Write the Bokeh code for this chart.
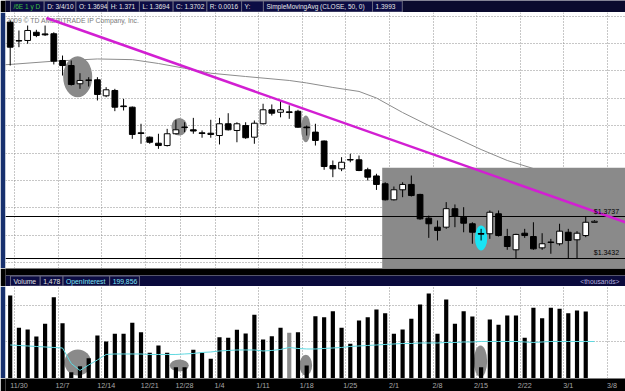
from bokeh.plotting import figure
from bokeh.models import Range1d, FixedTicker
from bokeh.layouts import column
from bokeh.embed import file_html
from bokeh.resources import INLINE
from bokeh.core.properties import value

FONT = "Liberation Sans"

# ---------------- data ----------------
week_labels = ["11/30", "12/7", "12/14", "12/21", "12/28", "1/4", "1/11", "1/18",
               "1/25", "2/1", "2/8", "2/15", "2/22", "3/1", "3/8"]
week_idx = [1, 6, 11, 16, 20, 24, 29, 34, 39, 44, 49, 54, 59, 64, 69]

opens = [1.5155, 1.5021, 1.5022, 1.5082, 1.5070, 1.5071, 1.4876, 1.4839, 1.4706, 1.4730,
         1.4735, 1.4618, 1.4657, 1.4544, 1.4535, 1.4348, 1.4316, 1.4272, 1.4255, 1.4341,
         1.4390, 1.4370, 1.4348, 1.4345, 1.4328, 1.4414, 1.4365, 1.4401, 1.4316, 1.4414,
         1.4516, 1.4498, 1.4501, 1.4505, 1.4390, 1.4353, 1.4288, 1.4109, 1.4085, 1.4153,
         1.4151, 1.4078, 1.4033, 1.3976, 1.3859, 1.3932, 1.3971, 1.3898, 1.3725, 1.3659,
         1.3659, 1.3794, 1.3732, 1.3684, 1.3613, 1.3611, 1.3757, 1.3591, 1.3494, 1.3615,
         1.3591, 1.3508, 1.3551, 1.3538, 1.3622, 1.3567, 1.3598, 1.3694]
highs = [1.5168, 1.5095, 1.5131, 1.5100, 1.5131, 1.5082, 1.4912, 1.4876, 1.4783, 1.4754,
         1.4754, 1.4681, 1.4669, 1.4596, 1.4540, 1.4414, 1.4321, 1.4341, 1.4377, 1.4443,
         1.4425, 1.4457, 1.4365, 1.4443, 1.4457, 1.4491, 1.4425, 1.4425, 1.4438, 1.4560,
         1.4555, 1.4584, 1.4548, 1.4516, 1.4401, 1.4414, 1.4292, 1.4146, 1.4170, 1.4195,
         1.4182, 1.4093, 1.4049, 1.3987, 1.3956, 1.3987, 1.4036, 1.3903, 1.3744, 1.3708,
         1.3842, 1.3825, 1.3805, 1.3695, 1.3647, 1.3781, 1.3781, 1.3647, 1.3611, 1.3647,
         1.3695, 1.3615, 1.3574, 1.3684, 1.3647, 1.3630, 1.3737, 1.3710]
lows = [1.4839, 1.4973, 1.4998, 1.5046, 1.5055, 1.4847, 1.4766, 1.4693, 1.4669, 1.4686,
        1.4584, 1.4608, 1.4506, 1.4511, 1.4304, 1.4268, 1.4268, 1.4231, 1.4248, 1.4336,
        1.4353, 1.4341, 1.4312, 1.4312, 1.4263, 1.4365, 1.4279, 1.4304, 1.4268, 1.4409,
        1.4474, 1.4461, 1.4450, 1.4385, 1.4328, 1.4255, 1.4078, 1.4024, 1.4068, 1.4133,
        1.4068, 1.4000, 1.3931, 1.3854, 1.3854, 1.3878, 1.3883, 1.3713, 1.3581, 1.3562,
        1.3647, 1.3659, 1.3622, 1.3538, 1.3562, 1.3574, 1.3591, 1.3494, 1.3432, 1.3581,
        1.3494, 1.3494, 1.3465, 1.3525, 1.3432, 1.3432, 1.3586, 1.3694]
closes = [1.4973, 1.5018, 1.5095, 1.5058, 1.5063, 1.4871, 1.4839, 1.4701, 1.4730, 1.4734,
          1.4628, 1.4662, 1.4535, 1.4539, 1.4336, 1.4343, 1.4279, 1.4255, 1.4341, 1.4370,
          1.4387, 1.4361, 1.4343, 1.4336, 1.4414, 1.4370, 1.4414, 1.4312, 1.4418, 1.4516,
          1.4491, 1.4516, 1.4496, 1.4389, 1.4385, 1.4292, 1.4102, 1.4085, 1.4133, 1.4149,
          1.4073, 1.4024, 1.3971, 1.3859, 1.3932, 1.3971, 1.3890, 1.3720, 1.3684, 1.3635,
          1.3794, 1.3737, 1.3688, 1.3622, 1.3608, 1.3768, 1.3598, 1.3518, 1.3606, 1.3598,
          1.3501, 1.3538, 1.3547, 1.3630, 1.3562, 1.3615, 1.3695, 1.3702]

# volume, thousands of contracts
volume = [226.2, 138.1, 133.5, 114.4, 149.0, 221.5, 150.7, 17.2, 33.5, 55.3,
          117.2, 100.8, 121.8, 121.8, 151.8, 126.2, 70.0, 89.9, 70.0, 30.8,
          30.8, 78.2, 70.0, 53.7, 112.5, 110.9, 132.7, 122.6, 173.6, 106.3,
          115.3, 138.1, 124.5, 126.2, 35.4, 169.5, 167.0, 183.4, 138.1, 94.6,
          158.0, 167.0, 188.0, 177.9, 121.8, 133.5, 162.7, 201.6, 231.6, 121.8,
          215.3, 149.0, 183.4, 168.9, 30.8, 160.8, 146.3, 171.7, 171.7, 110.9,
          192.6, 164.3, 192.6, 189.9, 177.9, 185.3, 182.6, 1.478]
vol_gray_idx = [32]

# open interest, thousands
open_interest = [192.9, 191.9, 190.9, 189.9, 188.9, 187.9, 186.9, 155.9, 141.9, 152.9,
                 162.9, 173.9, 174.9, 174.9, 174.9, 174.9, 173.9, 173.9, 173.9, 173.9,
                 174.9, 175.9, 177.9, 178.9, 180.9, 181.9, 182.9, 182.9, 182.9, 180.9,
                 181.9, 183.9, 187.9, 185.9, 184.9, 184.9, 185.9, 186.9, 187.9, 189.9,
                 190.9, 191.9, 192.9, 193.9, 194.9, 195.9, 195.9, 196.9, 196.9, 196.9,
                 197.9, 197.9, 198.9, 198.9, 199.9, 199.9, 199.9, 199.9, 199.9, 198.9,
                 197.9, 198.9, 199.9, 199.9, 199.9, 199.9, 199.9, 199.856]

# 50-day simple moving average, read at these bars
sma_idx = [-0.6, 0, 5, 10, 14, 17, 20, 23, 27, 32, 34, 37, 40, 42, 45, 48, 51, 54, 57, 60, 63, 67]
sma_val = [1.4845, 1.4847, 1.4871, 1.4887, 1.4882, 1.4854, 1.4819, 1.4783, 1.4759, 1.4730,
           1.4712, 1.4679, 1.4650, 1.4602, 1.4496, 1.4401, 1.4314, 1.4226, 1.4146, 1.4087,
           1.4040, 1.3993]

# trend line end points
trend_idx = [4.16, 70.56]
trend_val = [1.5186, 1.3695]

# highlighted price range
range_start_idx = 42.66
range_top = 1.40925
price_levels = [1.3737, 1.3432]
price_level_labels = ["$1.3737", "$1.3432"]

# highlight ellipses (price panel)
pe_idx = [7.74, 19.39, 33.90]
pe_val = [1.47568, 1.43925, 1.43772]
pe_w = [3.33, 1.80, 1.07]
pe_h = [0.0299, 0.0129, 0.0195]
cyan_idx, cyan_val, cyan_w, cyan_h = 54.0, 1.35801, 1.41, 0.01825
# highlight ellipses (volume panel)
ve_idx = [7.75, 19.39, 33.90, 53.93]
ve_val = [43.6, 35.4, 36.2, 46.9]
ve_w = [3.06, 2.18, 1.45, 1.53]
ve_h = [70.8, 32.7, 56.4, 86.4]

hdr_texts = ["/6E 1 y D", "D: 3/4/10", "O: 1.3694", "H: 1.371", "L: 1.3694", "C: 1.3702",
             "R: 0.0016", "Y:", "SimpleMovingAvg (CLOSE, 50, 0)", "1.3993"]
vol_hdr_texts = ["Volume", "1,478", "OpenInterest", "199,856"]

# ---------------- layout helpers ----------------
N = len(closes)
X_RANGE = Range1d(-0.54, 70.56)
GRID_COLOR = "#8f8f8f"


def make_fig(h, xr, yr, left=0, border="#000000", bg="#ffffff"):
    f = figure(width=625, height=h, x_range=xr, y_range=yr, output_backend="svg",
               toolbar_location=None, min_border=0, min_border_left=left,
               min_border_right=0, min_border_top=0, min_border_bottom=0)
    f.border_fill_color = border
    f.background_fill_color = bg
    f.outline_line_color = None
    f.axis.visible = False
    f.grid.visible = False
    return f


# ---------------- header ----------------
hdr = make_fig(12, Range1d(0, 625), Range1d(0, 12), bg="#0a0a2e")
hb_left = [5, 39, 71, 103, 135, 169, 203, 238, 260, 370]
hb_right = [39, 71, 103, 135, 169, 203, 238, 260, 370, 400]
hdr.quad(left=hb_left, right=hb_right, bottom=0.5, top=11.5, fill_color="#0c0c44",
         line_color="#6a6a80", line_width=1)
hdr.text(x=[l + 3 for l in hb_left], y=[6] * len(hb_left), text=hdr_texts,
         text_color=["#3cc040"] + ["#e6e6e6"] * 9, text_font=value(FONT),
         text_font_size=value("6.5px"), text_baseline="middle", text_align="left")

# ---------------- price panel ----------------
pr = make_fig(256, X_RANGE, Range1d(1.33574, 1.52262), left=5, border="#17306e")
pr.grid.visible = True
pr.xgrid.ticker = FixedTicker(ticks=[w - 0.5 for w in week_idx])
pr.ygrid.ticker = FixedTicker(ticks=[1.34 + 0.02 * k for k in range(10)])
pr.grid.grid_line_color = GRID_COLOR
pr.grid.grid_line_dash = "1 2"

pr.text(x=[-0.42], y=[1.5168], text=["2009 \u00a9 TD AMERITRADE IP Company, Inc."],
        text_color="#7a7a7a", text_font=value(FONT), text_font_size=value("6.8px"),
        text_baseline="middle", text_align="left")
pr.line(sma_idx, sma_val, line_color="#8c8c8c", line_width=1)
pr.quad(left=[range_start_idx], right=[72], top=[range_top], bottom=[1.30],
        fill_color="#8a8a8a", line_color=None)
pr.ellipse(x=pe_idx, y=pe_val, width=pe_w, height=pe_h, fill_color="#8a8a8a",
           line_color=None)
pr.ellipse(x=[cyan_idx], y=[cyan_val], width=[cyan_w], height=[cyan_h],
           fill_color="#18e4f4", line_color=None)
pr.hspan(y=price_levels, line_color="#000000", line_width=1)

idx = list(range(N))
up = [i for i in idx if closes[i] >= opens[i]]
dn = [i for i in idx if closes[i] < opens[i]]
pr.segment(x0=idx, y0=highs, x1=idx, y1=lows, line_color="#000000", line_width=1)
pr.vbar(x=[i for i in dn], width=0.66, top=[opens[i] for i in dn],
        bottom=[closes[i] for i in dn], fill_color="#000000", line_color="#000000")
pr.vbar(x=[i for i in up], width=0.66, top=[closes[i] for i in up],
        bottom=[opens[i] for i in up], fill_color="#ffffff", line_color="#000000")
pr.line(trend_idx, trend_val, line_color="#d21fd2", line_width=2.5)
pr.text(x=[69.82, 69.82], y=price_levels, text=price_level_labels, text_color="#000000",
        text_font=value(FONT), text_font_size=value("7px"), text_baseline="bottom",
        text_align="right", y_offset=-2)

# ---------------- separator / volume header ----------------
mid = make_fig(18, Range1d(0, 625), Range1d(0, 18), bg="#000000")
mid.quad(left=[0], right=[625], bottom=[0], top=[11], fill_color="#0a0a3c",
         line_color="#55556a")
vb_left = [5, 35, 58, 105]
vb_right = [35, 58, 105, 135]
mid.quad(left=vb_left, right=vb_right, bottom=0.5, top=10.5, fill_color="#0c0c44",
         line_color="#6a6a80")
mid.text(x=[l + 3 for l in vb_left], y=[5.5] * 4, text=vol_hdr_texts,
         text_color=["#e0e0e0", "#e0e0e0", "#80e4f4", "#80e4f4"], text_font=value(FONT),
         text_font_size=value("6.8px"), text_baseline="middle", text_align="left")
mid.text(x=[619], y=[5.5], text=["<thousands>"], text_color="#b4acdc",
         text_font=value(FONT), text_font_size=value("6.8px"), text_baseline="middle",
         text_align="right")

# ---------------- volume panel ----------------
vo = make_fig(92, X_RANGE, Range1d(0, 250.7), left=5, border="#17306e")
vo.extra_y_ranges = {"oi": Range1d(125.856, 309.856)}
vo.grid.visible = True
vo.xgrid.ticker = FixedTicker(ticks=[w - 0.5 for w in week_idx])
vo.ygrid.ticker = FixedTicker(ticks=[100, 200])
vo.grid.grid_line_color = GRID_COLOR
vo.grid.grid_line_dash = "1 2"
vo.ellipse(x=ve_idx, y=ve_val, width=ve_w, height=ve_h, fill_color="#8a8a8a",
           line_color=None)
vcol = ["#8a8a8a" if i in vol_gray_idx else "#000000" for i in idx]
vo.vbar(x=idx, width=0.48, top=volume, bottom=0, fill_color=vcol, line_color=None)
vo.line(idx, open_interest, y_range_name="oi", line_color="#5fd8e0", line_width=1)

# ---------------- date strip ----------------
ds = make_fig(13, X_RANGE, Range1d(0, 13), left=5, border="#000000", bg="#000000")
ds.text(x=week_idx, y=[6.5] * len(week_idx), text=week_labels, text_color="#a8a8a8",
        text_font=value(FONT), text_font_size=value("7.2px"), text_baseline="middle",
        text_align="center")

layout = column(hdr, pr, mid, vo, ds, spacing=0)
open("out.html", "w").write(file_html(layout, INLINE))
